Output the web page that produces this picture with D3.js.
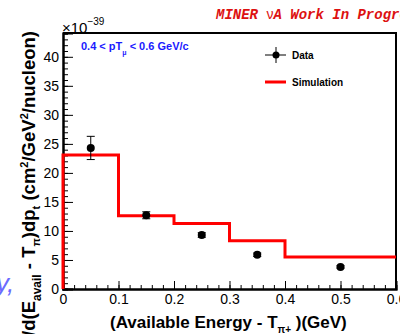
<!DOCTYPE html>
<html>
<head>
<meta charset="utf-8">
<script src="https://cdn.jsdelivr.net/npm/d3@7"></script>
<style>
  body { margin: 0; background: #fff; }
  svg { display: block; font-family: "Liberation Sans", Arial, sans-serif; }
  .axis path { stroke: #000; stroke-width: 2px; }
  .axis line { stroke: #000; stroke-width: 1px; }
  .axis text { font-size: 14px; fill: #000; font-family: "Liberation Sans", Arial, sans-serif; }
</style>
</head>
<body>
<div class="chart"></div>
<script>
// bin edges and simulated cross section (x1e-39)
var binEdges = [0, 0.1, 0.2, 0.3, 0.4, 0.6];
var simValues = [23.1, 12.6, 11.3, 8.3, 5.5];

// data points
var dataX = [0.05, 0.15, 0.25, 0.35, 0.5];
var dataY = [24.3, 12.7, 9.3, 5.9, 3.8];
var dataErr = [2.0, 0.6, 0.4, 0.3, 0.2];

var xTicks = [0, 0.1, 0.2, 0.3, 0.4, 0.5, 0.6];
var yTicks = [0, 5, 10, 15, 20, 25, 30, 35, 40];

var width = 400, height = 334;
var plot = {left: 63, right: 396, top: 33, bottom: 289};

var svg = d3.select(".chart").append("svg")
    .attr("width", width)
    .attr("height", height);

var x = d3.scaleLinear().domain([0, 0.6]).range([plot.left, plot.right]);
var y = d3.scaleLinear().domain([0, 44.1]).range([plot.bottom, plot.top]);

// frame top / right
svg.append("path")
    .attr("d", `M${plot.left},${plot.top}H${plot.right}V${plot.bottom}`)
    .attr("fill", "none")
    .attr("stroke", "#000")
    .attr("stroke-width", 2);

// minor ticks
svg.append("g")
    .attr("class", "axis")
    .attr("transform", `translate(${plot.left},0)`)
    .call(d3.axisLeft(y).tickValues(d3.range(0, 45, 1)).tickSize(-5).tickFormat(""));
svg.append("g")
    .attr("class", "axis")
    .attr("transform", `translate(0,${plot.bottom})`)
    .call(d3.axisBottom(x).tickValues(d3.range(0, 0.6001, 0.02)).tickSize(-4).tickFormat(""));

// major ticks
svg.append("g")
    .attr("class", "axis")
    .attr("transform", `translate(${plot.left},0)`)
    .call(d3.axisLeft(y).tickValues(yTicks).tickSize(-10).tickPadding(4).tickFormat(d3.format("d")));
svg.append("g")
    .attr("class", "axis")
    .attr("transform", `translate(0,${plot.bottom})`)
    .call(d3.axisBottom(x).tickValues(xTicks).tickSize(-8).tickPadding(5)
        .tickFormat(function(d) { return d === 0 ? "0" : d3.format(".1f")(d); }));

// simulation step histogram
var stepPts = [[binEdges[0], 0]];
simValues.forEach(function(v, i) {
    stepPts.push([binEdges[i], v]);
    stepPts.push([binEdges[i + 1], v]);
});
svg.append("path")
    .datum(stepPts)
    .attr("fill", "none")
    .attr("stroke", "#ff0000")
    .attr("stroke-width", 3)
    .attr("d", d3.line().x(function(d) { return x(d[0]); }).y(function(d) { return y(d[1]); }));

// data points with error bars
var pts = svg.append("g");
dataX.forEach(function(dx, i) {
    var cx = x(dx), cy = y(dataY[i]);
    var top = y(dataY[i] + dataErr[i]), bot = y(dataY[i] - dataErr[i]);
    pts.append("line").attr("x1", cx).attr("x2", cx).attr("y1", top).attr("y2", bot)
        .attr("stroke", "#000").attr("stroke-width", 1);
    pts.append("line").attr("x1", cx - 4).attr("x2", cx + 4).attr("y1", top).attr("y2", top)
        .attr("stroke", "#000").attr("stroke-width", 1);
    pts.append("line").attr("x1", cx - 4).attr("x2", cx + 4).attr("y1", bot).attr("y2", bot)
        .attr("stroke", "#000").attr("stroke-width", 1);
    pts.append("circle").attr("cx", cx).attr("cy", cy).attr("r", 4).attr("fill", "#000");
});

// exponent
var expo = svg.append("text").attr("x", 62).attr("y", 33).style("font-size", "15px");
expo.append("tspan").text("\u00d710");
expo.append("tspan").attr("dy", -8).style("font-size", "10px").text("\u221239");

// MINERvA label
var mnv = svg.append("text")
    .attr("x", 216).attr("y", 19)
    .style("font-family", "'Liberation Mono', 'Courier New', monospace")
    .style("font-weight", "bold").style("font-style", "italic")
    .style("font-size", "14px").attr("fill", "#dd1111");
mnv.append("tspan").text("MINER ");
mnv.append("tspan").style("font-family", "'Liberation Sans', Arial, sans-serif")
    .style("font-style", "normal").style("font-weight", "normal").text("\u03bd");
mnv.append("tspan").text("A Work In Progress");

// pT bin label
var pt = svg.append("text").attr("x", 81).attr("y", 50)
    .style("font-size", "11px").style("font-weight", "bold").attr("fill", "#1a1aff");
pt.append("tspan").text("0.4 < pT");
pt.append("tspan").attr("dy", 5).style("font-size", "7px").text("\u03bc");
pt.append("tspan").attr("dy", -5).text(" < 0.6 GeV/c");

// legend
var leg = svg.append("g");
leg.append("line").attr("x1", 265).attr("x2", 286).attr("y1", 55).attr("y2", 55).attr("stroke", "#000");
leg.append("line").attr("x1", 276).attr("x2", 276).attr("y1", 47).attr("y2", 63).attr("stroke", "#000");
leg.append("circle").attr("cx", 276).attr("cy", 55).attr("r", 3.5).attr("fill", "#000");
leg.append("text").attr("x", 292).attr("y", 59).style("font-size", "10px").style("font-weight", "bold").text("Data");
leg.append("line").attr("x1", 265).attr("x2", 286).attr("y1", 82).attr("y2", 82)
    .attr("stroke", "#ff0000").attr("stroke-width", 3);
leg.append("text").attr("x", 292).attr("y", 86).style("font-size", "10px").style("font-weight", "bold").text("Simulation");

// x axis title
var xt = svg.append("text").attr("x", 110).attr("y", 328)
    .style("font-size", "17px").style("font-weight", "bold");
xt.append("tspan").text("(Available Energy - T");
xt.append("tspan").attr("dy", 5).style("font-size", "10px").text("\u03c0+");
xt.append("tspan").attr("dy", -5).text(" )(GeV)");

// y axis title
var yt = svg.append("text")
    .attr("transform", "translate(35,31) rotate(-90)")
    .style("text-anchor", "end")
    .style("font-size", "18.5px").style("font-weight", "bold");
yt.append("tspan").text("d\u03c3/d(E");
yt.append("tspan").attr("dy", 6).style("font-size", "12px").text("avail");
yt.append("tspan").attr("dy", -6).text(" - T");
yt.append("tspan").attr("dy", 5).style("font-size", "11px").text("\u03c0");
yt.append("tspan").attr("dy", -5).text(")dp");
yt.append("tspan").attr("dy", 5).style("font-size", "11px").text("t");
yt.append("tspan").attr("dy", -5).text(" (cm");
yt.append("tspan").attr("dy", -7).style("font-size", "11px").text("2");
yt.append("tspan").attr("dy", 7).text("/GeV");
yt.append("tspan").attr("dy", -7).style("font-size", "11px").text("2");
yt.append("tspan").attr("dy", 7).text("/nucleon)");

// stray slide text at left edge
svg.append("text").attr("x", -4).attr("y", 292)
    .style("font-size", "26px").style("font-style", "italic")
    .attr("fill", "#6b6bff").text("y,");
</script>
</body>
</html>
